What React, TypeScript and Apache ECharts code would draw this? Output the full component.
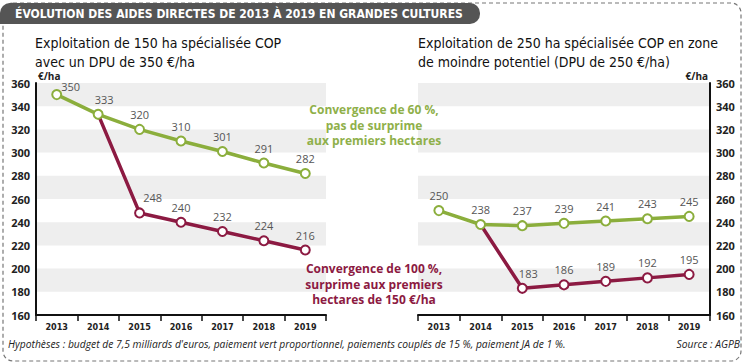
import React, { useEffect, useRef } from "react";
import * as echarts from "echarts";

const years = ["2013", "2014", "2015", "2016", "2017", "2018", "2019"];
const leftGreen = [350, 333, 320, 310, 301, 291, 282];
const leftRed = [null, 333, 248, 240, 232, 224, 216];
const rightGreen = [250, 238, 237, 239, 241, 243, 245];
const rightRed = [null, 238, 183, 186, 189, 192, 195];
const yMin = 160;
const yMax = 360;
const yStep = 20;

const GREEN = "#8bae3c";
const RED = "#8c1a42";
const LABEL_FONT = "Open Sans";
const COND = "DejaVu Sans Condensed";

function mkData(vals: (number | null)[], offsets: Record<number, [number, number]>, hide: number[] = []) {
  return vals.map((v, i) => {
    if (v === null) return null;
    const item: any = { value: v };
    if (offsets[i]) item.label = { offset: offsets[i] };
    if (hide.includes(i)) {
      item.label = { show: false };
      item.symbol = "none";
    }
    return item;
  });
}

export default function App() {
  const ref = useRef<HTMLDivElement>(null);
  useEffect(() => {
    document.body.style.margin = "0";
    const chart = echarts.init(ref.current!, null, { renderer: "svg" });
    const seriesBase = (xi: number, color: string, z: number) => ({
      type: "line",
      xAxisIndex: xi,
      yAxisIndex: xi,
      symbol: "circle",
      symbolSize: 9,
      connectNulls: false,
      lineStyle: { color, width: 3.5 },
      itemStyle: { color: "#ffffff", borderColor: color, borderWidth: 2 },
      label: {
        show: true,
        position: "top",
        distance: 4,
        color: "#555",
        fontSize: 11,
        fontFamily: LABEL_FONT,
      },
      z,
    });
    const xAxisBase = (gi: number) => ({
      type: "category",
      gridIndex: gi,
      data: years,
      boundaryGap: true,
      axisLine: { lineStyle: { color: "#111", width: 2 } },
      axisTick: { show: true, length: 6, lineStyle: { color: "#111", width: 1.5 } },
      axisLabel: { color: "#222", fontSize: 9, fontWeight: "bold", fontFamily: COND, margin: 7 },
      splitLine: { show: false },
    });
    const yAxisBase = (gi: number, pos: string) => ({
      type: "value",
      gridIndex: gi,
      position: pos,
      min: yMin,
      max: yMax,
      interval: yStep,
      axisLine: { show: true, lineStyle: { color: "#111", width: 2 } },
      axisTick: { show: false },
      axisLabel: { color: "#222", fontSize: 11, fontWeight: "bold", fontFamily: LABEL_FONT, margin: 6 },
      splitLine: { show: false },
      splitArea: { show: true, areaStyle: { color: ["rgba(255,255,255,0)", "#eeeeee"] } },
    });
    chart.setOption({
      animation: false,
      backgroundColor: "#ffffff",
      grid: [
        { left: 36, right: 421, top: 83, bottom: 49 },
        { left: 418, right: 37, top: 83, bottom: 49 },
      ],
      xAxis: [xAxisBase(0), xAxisBase(1)],
      yAxis: [yAxisBase(0, "left"), yAxisBase(1, "right")],
      series: [
        { ...seriesBase(0, GREEN, 4), data: mkData(leftGreen, { 0: [14, 7], 1: [6, 0] }) },
        { ...seriesBase(0, RED, 3), data: mkData(leftRed, { 2: [13, 0] }, [1]) },
        { ...seriesBase(1, GREEN, 4), data: mkData(rightGreen, {}) },
        { ...seriesBase(1, RED, 3), data: mkData(rightRed, { 2: [6, 0] }, [1]) },
      ],
      graphic: [
        {
          type: "rect",
          shape: { x: 3, y: 3, width: 738, height: 358, r: 10 },
          style: { fill: "none", stroke: "#777", lineWidth: 1.2, lineDash: [4, 3] },
          z: 0,
        },
        {
          type: "rect",
          shape: { x: 0, y: 3, width: 480, height: 21, r: [10, 10, 10, 0] },
          style: { fill: "#555555" },
          z: 10,
        },
        {
          type: "text",
          x: 15,
          y: 14,
          style: {
            text: "ÉVOLUTION DES AIDES DIRECTES DE 2013 À 2019 EN GRANDES CULTURES",
            fill: "#ffffff",
            font: "bold 12px 'DejaVu Sans Condensed'",
            verticalAlign: "middle",
          },
          z: 11,
        },
        {
          type: "text",
          x: 35,
          y: 33,
          style: {
            text: "Exploitation de 150 ha spécialisée COP\navec un DPU de 350 €/ha",
            fill: "#111",
            font: "14px 'DejaVu Sans Condensed'",
            lineHeight: 19,
          },
        },
        {
          type: "text",
          x: 418,
          y: 33,
          style: {
            text: "Exploitation de 250 ha spécialisée COP en zone\nde moindre potentiel (DPU de 250 €/ha)",
            fill: "#111",
            font: "14px 'DejaVu Sans Condensed'",
            lineHeight: 19,
          },
        },
        {
          type: "text",
          x: 38,
          y: 76,
          style: { text: "€/ha", fill: "#222", font: "bold 10px 'Open Sans'", verticalAlign: "middle" },
        },
        {
          type: "text",
          x: 708,
          y: 76,
          style: { text: "€/ha", fill: "#222", font: "bold 10px 'Open Sans'", verticalAlign: "middle", align: "right" },
        },
        {
          type: "text",
          x: 374,
          y: 102,
          style: {
            text: "Convergence de 60 %,\npas de surprime\naux premiers hectares",
            fill: "#8fb04a",
            font: "bold 12px 'Open Sans'",
            align: "center",
            lineHeight: 15.5,
          },
          z: 5,
        },
        {
          type: "text",
          x: 374,
          y: 261,
          style: {
            text: "Convergence de 100 %,\nsurprime aux premiers\nhectares de 150 €/ha",
            fill: "#8c1a42",
            font: "bold 12px 'Open Sans'",
            align: "center",
            lineHeight: 15.5,
          },
          z: 5,
        },
        {
          type: "text",
          x: 8,
          y: 344,
          style: {
            text: "Hypothèses : budget de 7,5 milliards d'euros, paiement vert proportionnel, paiements couplés de 15 %, paiement JA de 1 %.",
            fill: "#222",
            font: "italic 10.3px 'Open Sans'",
            verticalAlign: "middle",
          },
        },
        {
          type: "text",
          x: 740,
          y: 344,
          style: {
            text: "Source : AGPB",
            fill: "#222",
            font: "italic 10.3px 'Open Sans'",
            verticalAlign: "middle",
            align: "right",
          },
        },
      ],
    });
    return () => chart.dispose();
  }, []);
  return <div ref={ref} style={{ width: 747, height: 364 }} />;
}
